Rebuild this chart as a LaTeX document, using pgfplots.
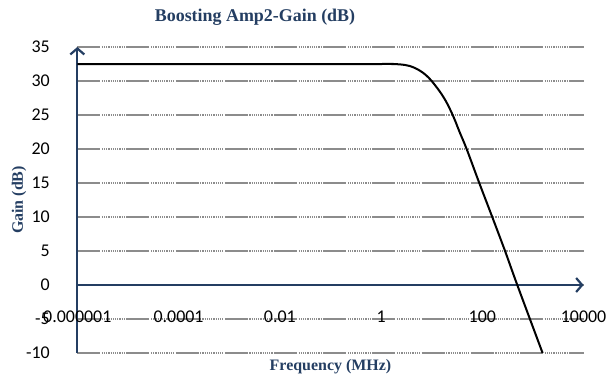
\documentclass[border=0pt]{standalone}
\usepackage{pgfplots}
\pgfplotsset{compat=1.18}
\usepackage{fontspec}
\setmainfont{Liberation Serif}
\newfontfamily\calibri{Carlito}
\usetikzlibrary{arrows.meta}
\definecolor{navy}{RGB}{36,62,98}
\definecolor{gridgray}{RGB}{140,140,140}
\begin{document}
\begin{tikzpicture}
\useasboundingbox (-77.3bp,-28bp) rectangle (530.7bp,353bp);
\begin{axis}[
  scale only axis,
  width=506.3bp, height=306bp,
  xmode=log,
  xmin=1e-6, xmax=1e4,
  ymin=-10, ymax=35,
  axis x line=middle,
  axis y line=left,
  hide obscured x ticks=false,
  hide obscured y ticks=false,
  axis line style={navy, line width=2.2bp, -{Straight Barb[length=6bp,width=14bp,line width=2.2bp]}},
  xtick={1e-6,1e-4,1e-2,1,100,1e4},
  xticklabels={0.000001,0.0001,0.01,1,100,10000},
  ytick={-10,-5,0,5,10,15,20,25,30,35},
  major tick length=0pt,
  minor tick num=0,
  /pgf/number format/assume math mode=true,
  xticklabel style={font=\calibri\fontsize{18}{18}\selectfont, anchor=center, yshift=-32bp, text=black},
  yticklabel style={font=\calibri\fontsize{18}{18}\selectfont, anchor=east, xshift=-24bp, text=black},
  ymajorgrids,
  major grid style={gridgray, line width=1.4bp, dash pattern=on 23bp off 1.5bp on 1.2bp off 1bp on 1.2bp off 1bp on 1.2bp off 1bp on 1.2bp off 1bp on 1.2bp off 1bp on 1.2bp off 1bp on 1.2bp off 1bp on 1.2bp off 1bp on 1.2bp off 1bp on 1.2bp off 1bp on 1.2bp off 1.5bp},
  title={Boosting Amp2-Gain (dB)},
  every axis title/.style={at={(axis description cs:0.351,1)}, anchor=center, yshift=30bp, font=\bfseries\fontsize{18}{18}\selectfont, text=navy},
  xlabel={Frequency (MHz)},
  every axis x label/.style={at={(axis description cs:0.5,0)}, anchor=center, yshift=-14bp, font=\bfseries\fontsize{16}{16}\selectfont, text=navy},
  ylabel={Gain (dB)},
  every axis y label/.style={at={(axis description cs:-0.115,0.5)}, rotate=90, anchor=center, font=\bfseries\fontsize{16}{16}\selectfont, text=navy},
  clip=false,
]
\addplot[black, line width=2bp, smooth, tension=0.5] coordinates {
(1e-6,32.5) (1e-3,32.5) (1,32.5) (1.6,32.5) (2.3,32.45) (3.0,32.35) (3.7,32.2) (4.7,31.9) (5.9,31.5) (7.6,30.9) (10,30) (14.6,28.4) (19.5,26.9) (26.7,24.8) (36,22.4) (49,20) (87,15) (157,10) (281,5) (490,0) (1549,-10)
};
\end{axis}
\end{tikzpicture}
\end{document}
